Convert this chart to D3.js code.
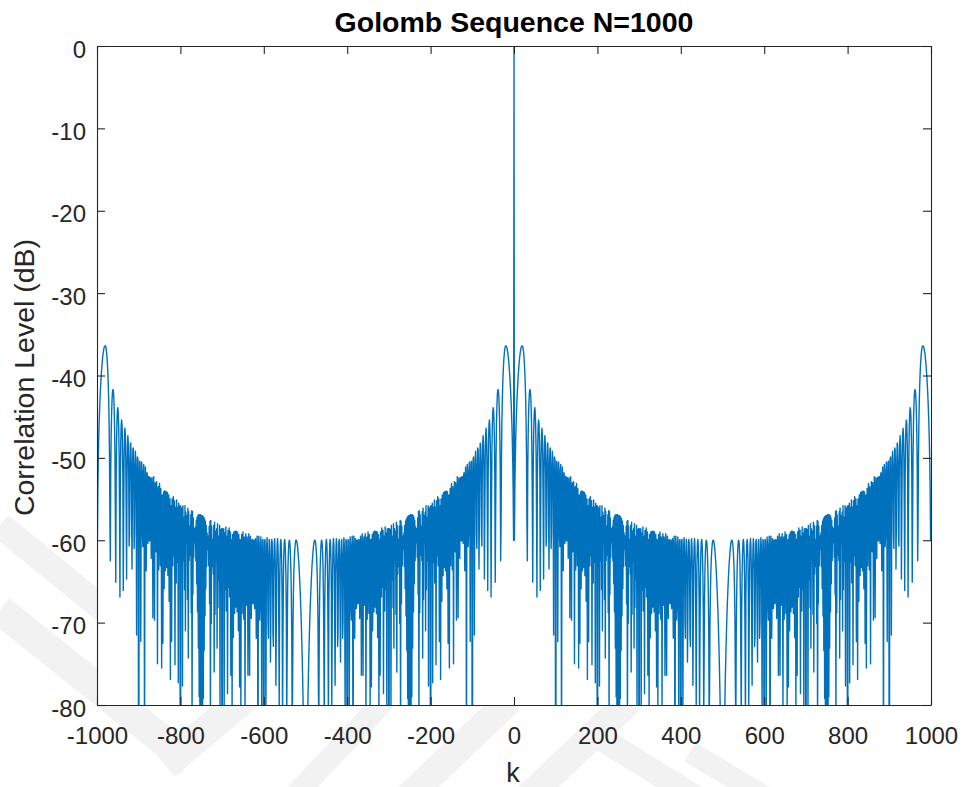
<!DOCTYPE html>
<html>
<head>
<meta charset="utf-8">
<script src="https://cdn.jsdelivr.net/npm/d3@7/dist/d3.min.js"></script>
<style>
  html, body { margin: 0; padding: 0; background: #ffffff; }
  svg { display: block; }
</style>
</head>
<body>
<svg id="chart" width="966" height="787"></svg>
<script>
// ---- Data: autocorrelation level (dB) of the Golomb sequence, N = 1000 ----
// Values read for lags k = 0..500; |r(k)| is symmetric in k -> -k and k -> 1000 - k.
const acfLag0to100 = [
  0,
  -60.0,-54.0,-50.5,-48.0,-46.0,-44.5,-43.1,-42.0,-41.0,-40.1,
  -39.4,-38.7,-38.1,-37.6,-37.2,-36.9,-36.6,-36.5,-36.4,-36.4,
  -36.5,-36.8,-37.2,-37.8,-38.6,-39.6,-41.1,-42.9,-45.6,-49.7,
  -58.0,-62.5,-51.5,-47.1,-44.6,-43.0,-42.1,-41.7,-41.8,-42.4,
  -43.7,-45.8,-49.4,-56.8,-65.1,-52.2,-47.7,-45.3,-44.2,-43.9,
  -44.5,-46.2,-49.4,-56.3,-66.9,-52.5,-48.1,-46.0,-45.4,-45.9,
  -47.9,-52.3,-66.1,-56.6,-49.9,-47.2,-46.4,-47.2,-50.0,-57.0,
  -64.7,-52.4,-48.4,-47.3,-48.1,-51.3,-60.7,-59.4,-51.1,-48.4,
  -48.2,-50.5,-57.6,-63.5,-52.2,-49.0,-48.8,-51.6,-61.0,-59.1,
  -51.2,-49.2,-50.2,-55.4,-71.5,-53.5,-49.9,-50.1,-54.4,-120
];
const acfLag101to200 = [
  -54.5,-50.4,-50.6,-55.4,-72.3,-53.7,-50.5,-51.7,-59.3,-60.8,
  -52.1,-50.8,-54.4,-88.9,-54.7,-51.1,-52.7,-63.7,-57.5,-51.8,
  -52.3,-60.4,-59.6,-52.3,-52.3,-60.1,-59.9,-52.4,-52.8,-62.2,
  -58.3,-52.4,-53.8,-69.4,-56.0,-52.3,-56.0,-69.7,-54.0,-53.0,
  -61.4,-58.8,-52.9,-55.5,-75.0,-54.5,-53.5,-63.6,-57.7,-53.1,
  -57.9,-63.1,-53.7,-55.5,-75.5,-54.7,-54.5,-72.5,-55.9,-54.1,
  -65.9,-56.9,-54.0,-63.7,-57.7,-54.1,-63.3,-57.8,-54.2,-64.3,
  -57.4,-54.5,-67.4,-56.7,-55.0,-76.9,-55.8,-56.0,-72.3,-55.0,
  -57.9,-63.1,-54.7,-61.9,-58.5,-55.2,-75.1,-56.0,-57.2,-65.2,
  -55.1,-62.7,-58.2,-56.0,-77.3,-55.5,-60.2,-59.8,-55.8,-120
];
const acfLag201to300 = [
  -55.9,-60.2,-59.8,-56.1,-77.7,-55.8,-62.5,-58.3,-57.2,-66.0,
  -55.8,-71.0,-56.6,-60.4,-59.7,-57.0,-67.2,-56.1,-74.3,-56.5,
  -62.5,-58.3,-58.7,-61.8,-56.9,-68.8,-56.4,-82.3,-56.5,-66.6,
  -57.3,-62.1,-58.6,-59.7,-60.3,-58.4,-62.5,-57.6,-65.3,-57.2,
  -68.7,-57.0,-73.1,-56.9,-79.0,-56.9,-87.9,-56.9,-107,-57.0,
  -107,-57.0,-88.1,-57.1,-79.2,-57.2,-73.4,-57.4,-69.2,-57.7,
  -65.9,-58.2,-63.2,-59.1,-61.1,-60.6,-59.5,-63.1,-58.3,-67.7,
  -57.7,-83.5,-57.6,-70.1,-58.3,-63.2,-60.2,-59.9,-64.1,-58.2,
  -76.0,-57.8,-69.0,-58.9,-61.6,-62.4,-58.6,-73.1,-58.0,-68.2,
  -59.5,-60.6,-64.8,-58.2,-80.2,-58.7,-62.4,-62.9,-58.6,-120
];
const acfLag301to400 = [
  -58.6,-62.7,-63.2,-58.6,-80.4,-59.1,-61.3,-66.0,-58.4,-68.6,
  -60.7,-59.5,-78.6,-58.8,-62.2,-65.7,-58.5,-66.9,-61.8,-59.0,
  -76.4,-60.1,-59.9,-81.1,-59.3,-61.0,-71.8,-59.0,-61.9,-68.9,
  -58.9,-62.5,-68.1,-58.9,-62.5,-68.7,-59.0,-62.0,-71.0,-59.3,
  -61.1,-77.8,-59.9,-60.1,-81.0,-61.1,-59.3,-68.9,-63.7,-59.0,
  -63.6,-69.6,-59.6,-60.6,-81.2,-61.7,-59.2,-65.2,-67.9,-59.6,
  -60.6,-76.4,-62.7,-59.2,-62.9,-76.4,-60.9,-59.5,-65.5,-69.5,
  -60.2,-59.9,-67.4,-67.7,-60.0,-60.0,-67.4,-68.3,-60.2,-59.8,
  -65.7,-71.9,-61.0,-59.5,-63.2,-97.5,-63.0,-59.5,-60.9,-69.7,
  -68.2,-60.7,-59.6,-62.9,-81.6,-64.8,-60.1,-59.9,-64.1,-120
];
const acfLag401to500 = [
  -64.2,-60.1,-59.9,-63.7,-81.7,-65.7,-60.6,-59.7,-61.9,-69.9,
  -71.9,-62.5,-59.9,-60.2,-63.4,-74.8,-69.0,-62.1,-59.9,-60.2,
  -63.0,-71.4,-72.9,-63.5,-60.4,-59.8,-61.1,-65.0,-77.6,-70.0,
  -63.1,-60.5,-59.8,-60.7,-63.6,-70.4,-80.1,-66.4,-62.1,-60.3,
  -59.9,-60.7,-62.9,-67.5,-82.0,-71.5,-64.8,-61.8,-60.3,-59.9,
  -60.3,-61.7,-64.2,-68.9,-82.0,-73.9,-66.7,-63.3,-61.4,-60.4,
  -60.0,-60.1,-60.7,-61.9,-63.7,-66.5,-71.1,-82.4,-78.2,-70.2,
  -66.4,-64.0,-62.5,-61.4,-60.7,-60.2,-60.0,-60.0,-60.1,-60.4,
  -60.8,-61.4,-62.1,-62.8,-63.7,-64.8,-65.9,-67.2,-68.6,-70.2,
  -72.0,-74.0,-76.3,-78.9,-82.1,-86.0,-91.0,-98.0,-110.1,-150
];
const maxLag = 999;
const xTicks = [-1000,-800,-600,-400,-200,0,200,400,600,800,1000];
const yTicks = [0,-10,-20,-30,-40,-50,-60,-70,-80];
const titleText = "Golomb Sequence N=1000";
const xLabelText = "k";
const yLabelText = "Correlation Level (dB)";

// ---- Build series ----
const acfHalf = [].concat(acfLag0to100, acfLag101to200, acfLag201to300, acfLag301to400, acfLag401to500);
const series = d3.range(-maxLag, maxLag + 1).map(k => {
  const a = Math.abs(k);
  return { k: k, db: acfHalf[a <= 500 ? a : 1000 - a] };
});

// ---- Layout ----
const svg = d3.select("#chart");
const L = 97, R = 931, T = 46, B = 705;
const x = d3.scaleLinear().domain([-1000, 1000]).range([L, R]);
const y = d3.scaleLinear().domain([-80, 0]).range([B, T]);
const axisColor = "#262626";
const font = "'Liberation Sans', Arial, Helvetica, sans-serif";

// faint background watermark bands (outside the axes)
const wm = svg.append("g").attr("fill", "none").attr("stroke", "#f2f2f2").attr("stroke-linecap", "butt");
[
  [[0, 525], [110, 615], 26],
  [[0, 610], [190, 762], 30],
  [[165, 765], [290, 660], 30],
  [[295, 795], [385, 700], 22],
  [[405, 800], [510, 700], 28],
  [[525, 800], [630, 700], 28],
  [[600, 738], [700, 800], 24],
  [[690, 752], [770, 800], 22]
].forEach(s => {
  wm.append("line").attr("x1", s[0][0]).attr("y1", s[0][1]).attr("x2", s[1][0]).attr("y2", s[1][1]).attr("stroke-width", s[2]);
});

// plot background
svg.append("rect").attr("x", L).attr("y", T).attr("width", R - L).attr("height", B - T).attr("fill", "#ffffff");

svg.append("defs").append("clipPath").attr("id", "plotClip")
  .append("rect").attr("x", L).attr("y", T).attr("width", R - L).attr("height", B - T);

const line = d3.line()
  .x(d => x(d.k))
  .y(d => y(Math.max(d.db, -200)));

svg.append("path")
  .datum(series)
  .attr("clip-path", "url(#plotClip)")
  .attr("fill", "none")
  .attr("stroke", "#0072BD")
  .attr("stroke-width", 1.4)
  .attr("stroke-linejoin", "round")
  .attr("d", line);

// ---- Axes (MATLAB-style box with inward ticks) ----
function styleAxis(g) {
  g.selectAll("path.domain").attr("stroke", axisColor).attr("stroke-width", 1.1);
  g.selectAll(".tick line").attr("stroke", axisColor).attr("stroke-width", 1.1);
  g.selectAll(".tick text").attr("fill", axisColor).style("font-family", font).style("font-size", "24px");
}

const gx = svg.append("g").attr("transform", `translate(0,${B})`)
  .call(d3.axisBottom(x).tickValues(xTicks).tickSizeInner(-8).tickSizeOuter(0).tickPadding(22).tickFormat(d => String(d)));
styleAxis(gx);

const gxt = svg.append("g").attr("transform", `translate(0,${T})`)
  .call(d3.axisTop(x).tickValues(xTicks).tickSizeInner(-8).tickSizeOuter(0).tickFormat(""));
styleAxis(gxt);

const gy = svg.append("g").attr("transform", `translate(${L},0)`)
  .call(d3.axisLeft(y).tickValues(yTicks).tickSizeInner(-8).tickSizeOuter(0).tickPadding(11).tickFormat(d => String(d)));
styleAxis(gy);
gy.selectAll(".tick text").attr("dy", "0.46em");

const gyr = svg.append("g").attr("transform", `translate(${R},0)`)
  .call(d3.axisRight(y).tickValues(yTicks).tickSizeInner(-8).tickSizeOuter(0).tickFormat(""));
styleAxis(gyr);

// ---- Labels ----
svg.append("text")
  .attr("x", (L + R) / 2).attr("y", 32)
  .attr("text-anchor", "middle")
  .style("font-family", font).style("font-size", "28.5px").style("font-weight", "bold")
  .attr("fill", "#000000")
  .text(titleText);

svg.append("text")
  .attr("x", 513).attr("y", 782)
  .attr("text-anchor", "middle")
  .style("font-family", font).style("font-size", "27px")
  .attr("fill", axisColor)
  .text(xLabelText);

svg.append("text")
  .attr("transform", `translate(34,${(T + B) / 2 + 2}) rotate(-90)`)
  .attr("text-anchor", "middle")
  .style("font-family", font).style("font-size", "28.5px")
  .attr("fill", axisColor)
  .text(yLabelText);
</script>
</body>
</html>
